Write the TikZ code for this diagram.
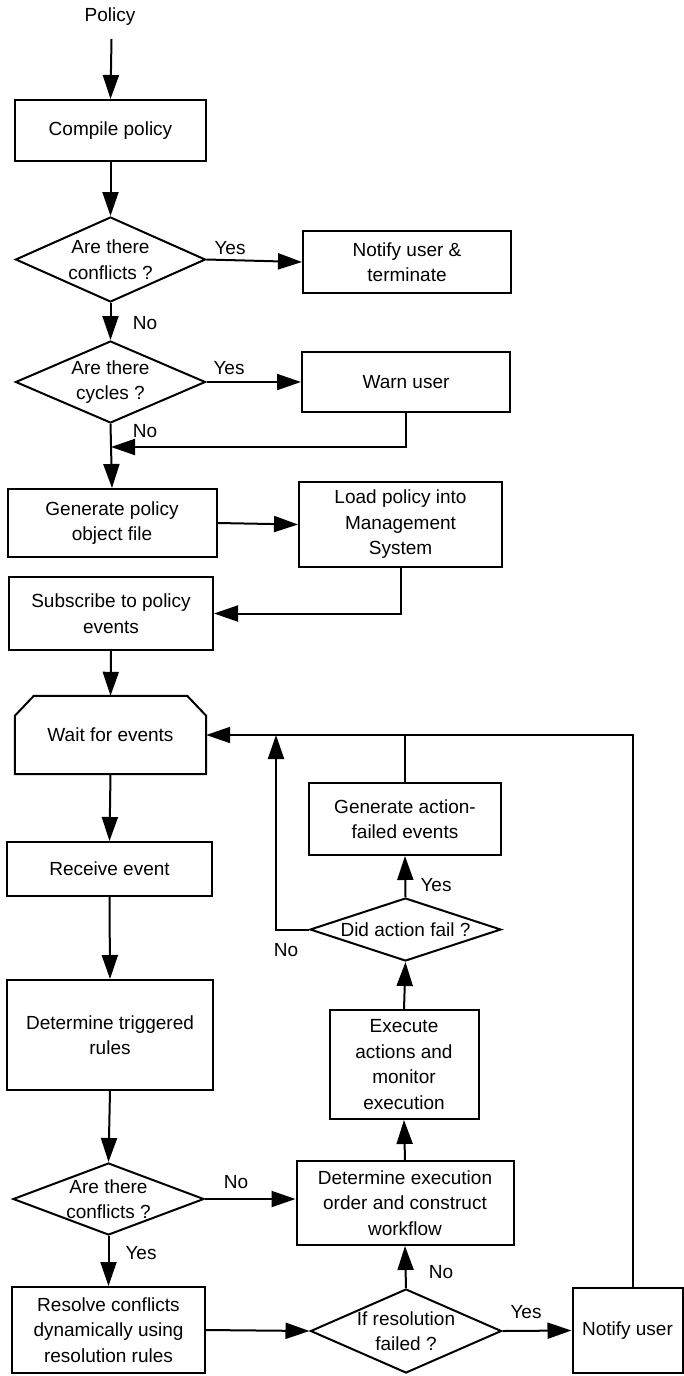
\documentclass[tikz,border=0pt]{standalone}
\usepackage{fontspec}
\setmainfont{Liberation Sans}
\usetikzlibrary{arrows.meta,shapes.geometric,calc}
\begin{document}
\begin{tikzpicture}[x=1pt,y=-1pt,
  every node/.style={font=\fontsize{19pt}{25.5pt}\selectfont},
  box/.style={draw, line width=2pt, align=center, inner sep=0pt},
  dia/.style={draw, diamond, line width=2pt, inner sep=0pt},
  conn/.style={line width=2pt},
  arr/.style={conn, -{Triangle[length=24pt,width=16pt]}}]
\useasboundingbox (0,0) rectangle (684,1376);

% left column
\node (policy) at (110,17) {Policy};
\coordinate (pstart) at (111.5,39);
\node[box, minimum width=191pt, minimum height=61pt] (compile) at (110.5,130.5) {Compile policy};
\node[dia, minimum width=190pt, minimum height=85pt,
      label={[align=center]center:{Are there\\conflicts ?}}] (d1) at (110.5,259.5) {};
\node[box, minimum width=208pt, minimum height=62pt] (notify1) at (407,262) {Notify user \&\\terminate};
\node[dia, minimum width=190pt, minimum height=82pt,
      label={[align=center]center:{Are there\\cycles ?}}] (d2) at (110.5,382) {};
\node[box, minimum width=208pt, minimum height=60pt] (warn) at (406,382) {Warn user};
\node[box, minimum width=209pt, minimum height=68pt] (gen) at (112,523) {Generate policy\\object file};
\node[box, minimum width=203pt, minimum height=85pt] (load) at (400.5,524.5) {Load policy into\\Management\\System};
\node[box, minimum width=204pt, minimum height=73pt] (subscribe) at (111,613.5) {Subscribe to policy\\events};
\node[minimum width=191pt, minimum height=78pt, inner sep=0pt] (wait) at (110.5,735) {Wait for events};
\draw[conn] (wait.south west) -- (wait.south east) -- ([yshift=-20pt]wait.north east)
  -- ([xshift=-19pt]wait.north east) -- ([xshift=19pt]wait.north west)
  -- ([yshift=-20pt]wait.north west) -- cycle;
\node[box, minimum width=205pt, minimum height=54pt] (receive) at (109.5,869) {Receive event};
\node[box, minimum width=206pt, minimum height=110pt] (dettrig) at (110,1035) {Determine triggered\\rules};
\node[dia, minimum width=191pt, minimum height=72pt,
      label={[align=center]center:{Are there\\conflicts ?}}] (d3) at (108.5,1199) {};
\node[box, minimum width=193pt, minimum height=86pt] (resolve) at (108.5,1330) {Resolve conflicts\\dynamically using\\resolution rules};

% right column
\node[box, minimum width=192pt, minimum height=72pt] (gaf) at (405,819) {Generate action-\\failed events};
\node[dia, minimum width=191pt, minimum height=63pt,
      label={center:{Did action fail ?}}] (daf) at (405.5,929.5) {};
\node[box, minimum width=149pt, minimum height=109pt] (execute) at (404,1064.5) {Execute\\actions and\\monitor\\execution};
\node[box, minimum width=217pt, minimum height=84pt] (detexec) at (405,1203) {Determine execution\\order and construct\\workflow};
\node[dia, minimum width=191pt, minimum height=84pt,
      label={[align=center]center:{If resolution\\failed ?}}] (ifd) at (406,1331) {};
\node[box, minimum width=110pt, minimum height=85pt] (notify2) at (627.5,1330.5) {Notify user};

% junction coordinates
\coordinate (m1) at (111,447);
\coordinate (j1) at (276,735);
\coordinate (j2) at (633,735);

% connectors
\draw[arr] (pstart) -- (compile.north);
\draw[arr] (compile.south) -- (d1.north);
\draw[arr] (d1.east) -- (notify1.west);
\draw[arr] (d1.south) -- (d2.north);
\draw[arr] (d2.east) -- (warn.west);
\draw[arr] (d2.south) -- (gen.north);
\draw[arr] (warn.south) |- (m1);
\draw[arr] (gen.east) -- (load.west);
\draw[arr] (load.south) |- (subscribe.east);
\draw[arr] (subscribe.south) -- (wait.north);
\draw[arr] (wait.south) -- (receive.north);
\draw[arr] (receive.south) -- (dettrig.north);
\draw[arr] (dettrig.south) -- (d3.north);
\draw[arr] (d3.east) -- (d3.east -| detexec.west);
\draw[arr] (d3.south) -- (resolve.north);
\draw[arr] (resolve.east) -- (ifd.west);
\draw[arr] (ifd.north) -- (detexec.south);
\draw[arr] (ifd.east) -- (notify2.west);
\draw[arr] (detexec.north) -- (execute.south);
\draw[arr] (execute.north) -- (daf.south);
\draw[arr] (daf.north) -- (gaf.south);
\draw[arr] (daf.west) -| (j1);
\draw[conn] (gaf.north) -- (gaf.north |- j1);
\draw[arr] (notify2.north -| j2) -- (j2) -- (wait.east);

% branch labels
\node (y1) at (230,248) {Yes};
\node (n1) at (145,323) {No};
\node (y2) at (229,368) {Yes};
\node (n2) at (145,431) {No};
\node (y3) at (436,885) {Yes};
\node (n3) at (286,950) {No};
\node (n4) at (236,1182) {No};
\node (y4) at (141,1253) {Yes};
\node (n5) at (441,1272) {No};
\node (y5) at (526,1312) {Yes};
\end{tikzpicture}
\end{document}
